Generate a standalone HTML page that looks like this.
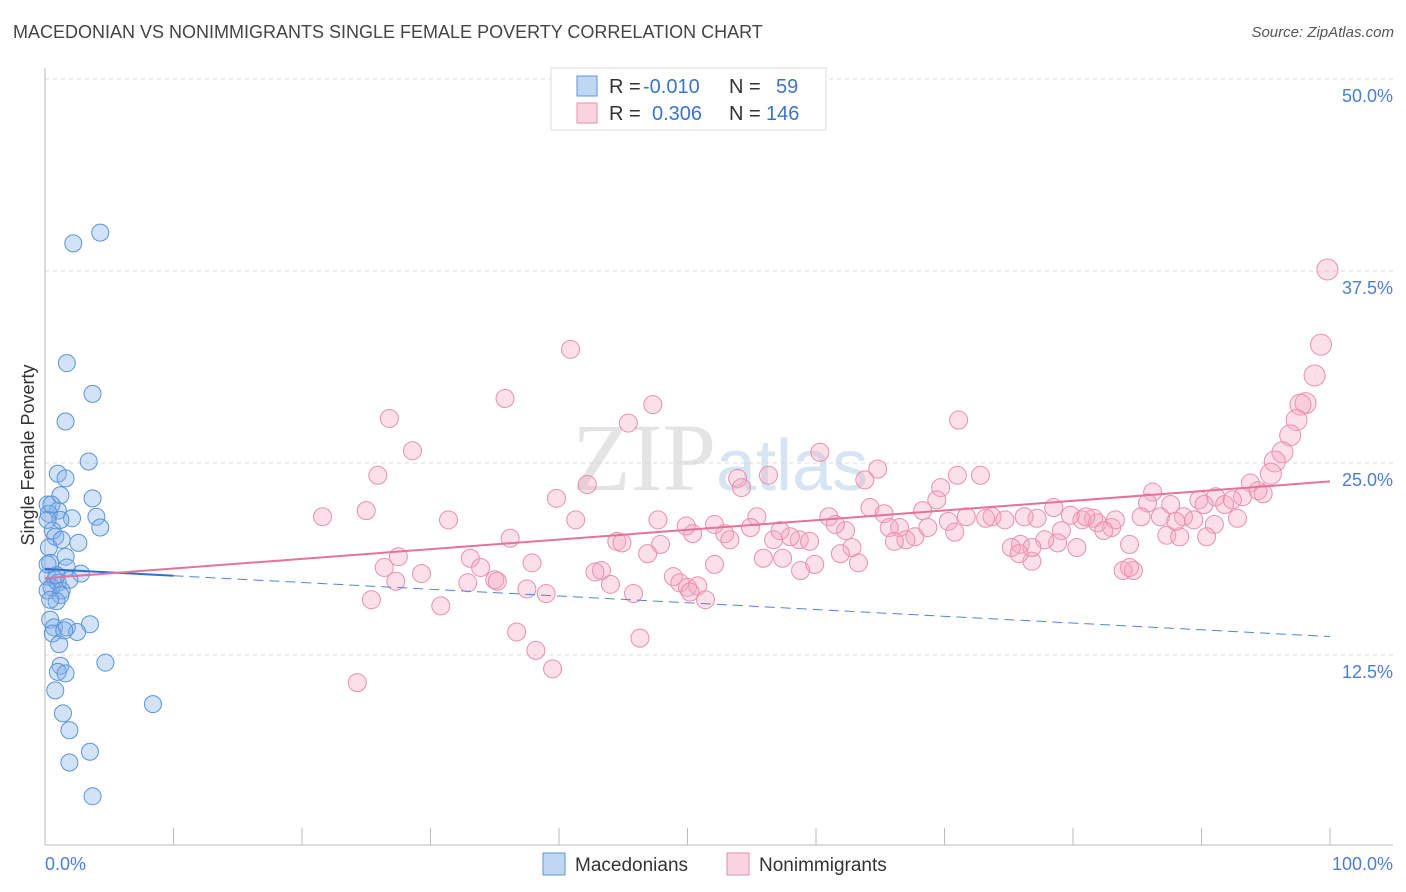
<!DOCTYPE html>
<html><head><meta charset="utf-8"><style>
body{margin:0;background:#fff;font-family:"Liberation Sans",sans-serif}
#wrap{position:relative;width:1406px;height:892px}
.t{position:absolute;white-space:nowrap}
</style></head><body>
<div id="wrap">
<div class="t" style="left:13px;top:22px;font-size:18px;color:#444">MACEDONIAN VS NONIMMIGRANTS SINGLE FEMALE POVERTY CORRELATION CHART</div>
<div class="t" style="right:12px;top:24px;font-size:15px;color:#555;font-style:italic">Source: ZipAtlas.com</div>
<svg id="svg" width="1406" height="892" style="position:absolute;left:0;top:0"></svg>
</div>
<script>
const blueX=[2.2,4.3,1.7,3.7,1.6,3.4,1.0,1.6,1.2,3.7,0.2,1.0,0.3,4.0,2.1,1.2,4.3,0.6,0.8,2.6,0.3,1.6,0.4,1.7,2.8,0.2,0.8,1.0,0.5,1.3,1.2,0.9,0.4,3.5,0.7,1.7,2.5,0.6,1.1,1.2,4.7,1.0,1.6,0.8,8.4,1.4,1.9,3.5,1.9,3.7,0.2,0.2,0.4,1.5,0.9,0.2,1.9,0.5,1.3];
const blueY=[39.3,40.0,31.5,29.5,27.7,25.1,24.3,24.0,22.9,22.7,22.3,21.9,21.7,21.5,21.4,21.3,20.8,20.6,20.2,19.8,19.5,18.9,18.5,18.2,17.8,17.6,17.4,17.2,16.9,16.7,16.4,16.0,14.8,14.5,14.3,14.3,14.0,13.9,13.2,11.8,12.0,11.4,11.3,10.2,9.3,8.7,7.6,6.2,5.5,3.3,16.7,21.3,16.1,14.1,17.7,18.4,17.4,22.3,20.0];
const pinkX=[40.2,99.8,99.3,40.9,98.8,35.8,47.3,26.8,71.1,45.4,98.1,97.7,97.4,96.9,96.3,60.3,28.6,25.9,95.7,64.8,56.3,72.8,71.0,53.9,63.8,95.4,93.8,54.2,42.2,69.7,39.8,94.4,94.8,86.2,85.8,91.1,89.8,91.8,93.2,92.4,90.2,87.6,68.3,69.4,64.2,65.3,78.5,79.8,81.6,80.7,81.9,85.3,86.8,88.6,89.4,91.0,92.8,21.6,25.0,31.4,41.3,47.7,49.9,52.1,55.4,61.0,71.7,73.7,74.7,77.2,76.2,81.0,83.0,83.3,70.3,73.2,70.8,66.5,65.7,67.7,68.7,52.9,54.9,50.4,62.3,61.5,87.3,88.3,90.4,75.9,79.1,75.2,78.8,77.8,80.3,67.0,66.1,53.3,56.7,58.7,58.0,59.5,57.2,36.2,44.5,47.9,62.8,44.9,27.5,46.9,33.1,37.9,55.9,57.4,52.1,61.9,58.8,59.9,63.3,26.4,33.9,43.3,42.8,48.9,29.3,35.0,32.9,35.2,27.3,49.4,50.0,50.8,37.5,44.0,39.0,45.8,50.2,51.4,25.4,30.8,36.7,46.3,38.2,39.5,24.3,76.8,83.9,84.7,84.4,76.8,75.8,84.4,88.0,82.4];
const pinkY=[47.5,37.6,32.7,32.4,30.7,29.2,28.8,27.9,27.8,27.6,28.9,28.8,27.8,26.8,25.7,25.7,25.8,24.2,25.1,24.6,24.2,24.2,24.2,24.0,23.9,24.3,23.7,23.4,23.6,23.4,22.7,23.2,23.0,23.1,22.4,22.8,22.6,22.3,22.8,22.6,22.3,22.3,21.9,22.6,22.1,21.7,22.1,21.6,21.4,21.3,21.1,21.5,21.5,21.5,21.3,21.0,21.4,21.5,21.9,21.3,21.3,21.3,20.9,21.0,21.5,21.5,21.5,21.5,21.3,21.4,21.5,21.5,20.8,21.3,21.2,21.4,20.5,20.8,20.8,20.2,20.8,20.4,20.8,20.4,20.6,21.0,20.3,20.2,20.2,19.7,20.6,19.5,19.8,20.0,19.5,20.0,19.9,20.0,20.0,20.0,20.2,19.9,20.6,20.1,19.9,19.7,19.5,19.8,18.9,19.1,18.8,18.5,18.8,18.8,18.4,19.1,18.0,18.4,18.5,18.2,18.2,18.0,17.9,17.6,17.8,17.4,17.2,17.3,17.3,17.2,16.9,17.0,16.8,17.1,16.5,16.5,16.6,16.1,16.1,15.7,14.0,13.6,12.8,11.6,10.7,18.6,18.0,18.0,18.2,19.5,19.1,19.7,21.2,20.6];
const pinkTrend=[17.5,23.8];   // value at x=0, x=100
const blueTrend=[18.1,13.7];   // value at x=0, x=100
const blueSolidEnd=10;
const yTicks=[12.5,25.0,37.5,50.0];
const xTicks=[0,10,20,30,40,50,60,70,80,90,100];

const X0=45,X1=1330,Y0=847,PPY=15.36;
const sx=v=>X0+(X1-X0)*v/100, sy=v=>Y0-v*PPY;
const NS="http://www.w3.org/2000/svg", svg=document.getElementById('svg');
function mk(t,a,p){const e=document.createElementNS(NS,t);for(const k in a)e.setAttribute(k,a[k]);(p||svg).appendChild(e);return e;}

// watermark
let wm=mk('text',{x:720,y:490,'text-anchor':'middle','font-size':96,'font-family':'Liberation Serif,serif',fill:'#e4e4e4'});


wm.innerHTML='ZIP<tspan font-family="Liberation Sans,sans-serif" font-size="72" fill="#d6e4f3">atlas</tspan>';

yTicks.forEach(v=>{
  const g=mk('line',{x1:X0,x2:1393,y1:sy(v),y2:sy(v),stroke:'#d8d8d8','stroke-dasharray':'4,4'});
  
  
  const t=mk('text',{x:1393,y:sy(v)+23,'text-anchor':'end','font-size':18,fill:'#4a7fd0'});
  
  
  t.textContent=v.toFixed(1)+'%';
});
let ax=mk('line',{x1:X0,x2:1393,y1:845,y2:845,stroke:'#bbb'});


let ay=mk('line',{x1:X0,x2:X0,y1:68,y2:845,stroke:'#bbb'});


xTicks.forEach(v=>{
  const l=mk('line',{x1:sx(v),x2:sx(v),y1:828,y2:845,stroke:'#bbb'});
  
  
});
[['0.0%',45,'start'],['100.0%',1393,'end']].forEach(a=>{
  const t=mk('text',{x:a[1],y:870,'text-anchor':a[2],'font-size':18,fill:'#4a7fd0'});
  
  
  t.textContent=a[0];
});
let yt=mk('text',{x:34,y:455,'text-anchor':'middle','font-size':18,fill:'#333',transform:'rotate(-90 34 455)'});


yt.textContent='Single Female Poverty';

pinkX.forEach((x,i)=>{
  const c=mk('circle',{cx:sx(x),cy:sy(pinkY[i]),r:x>95?10.5:9,fill:'rgba(244,167,191,0.35)',stroke:'#eb8fac','stroke-width':1});
  
  
});
blueX.forEach((x,i)=>{
  const c=mk('circle',{cx:sx(x),cy:sy(blueY[i]),r:8.5,fill:'rgba(130,176,232,0.35)',stroke:'#5b94d8','stroke-width':1});
  
  
});
const bAt=v=>blueTrend[0]+(blueTrend[1]-blueTrend[0])*v/100;
let bd=mk('line',{x1:sx(blueSolidEnd),y1:sy(bAt(blueSolidEnd)),x2:sx(100),y2:sy(bAt(100)),stroke:'#4f86d4','stroke-width':1,'stroke-dasharray':'10,6'});


let bs=mk('line',{x1:sx(0),y1:sy(bAt(0)),x2:sx(blueSolidEnd),y2:sy(bAt(blueSolidEnd)),stroke:'#2f6fd0','stroke-width':2});


let pt=mk('line',{x1:sx(0),y1:sy(pinkTrend[0]),x2:sx(100),y2:sy(pinkTrend[1]),stroke:'#e8719a','stroke-width':2});



// legend box
let lb=mk('rect',{x:551,y:68,width:275,height:62,fill:'#fff',stroke:'#ddd'});


[[-0.010,59,'rgba(130,176,232,0.5)','#5b94d8',86],[0.306,146,'rgba(244,167,191,0.5)','#eb8fac',113]].forEach((r,i)=>{
  const s=mk('rect',{x:577,y:r[4]-10,width:20,height:20,fill:r[2],stroke:r[3]});
  
  
  const t=mk('text',{x:609,y:r[4]+7,'font-size':20,fill:'#333'});
  
  
  t.innerHTML='R = <tspan fill="#3b74cc" x="'+(i?652:643)+'">'+r[0].toFixed(3)+'</tspan><tspan x="729" fill="#333">N = </tspan><tspan fill="#3b74cc" x="'+(i?766:776)+'">'+r[1]+'</tspan>';
});
// bottom legend
[['Macedonians',543,'rgba(130,176,232,0.5)','#5b94d8'],['Nonimmigrants',727,'rgba(244,167,191,0.5)','#eb8fac']].forEach(r=>{
  const s=mk('rect',{x:r[1],y:853,width:22,height:22,fill:r[2],stroke:r[3]});
  
  
  const t=mk('text',{x:r[1]+32,y:871,'font-size':19,fill:'#333'});
  
  
  t.textContent=r[0];
});
</script>
</body></html>
